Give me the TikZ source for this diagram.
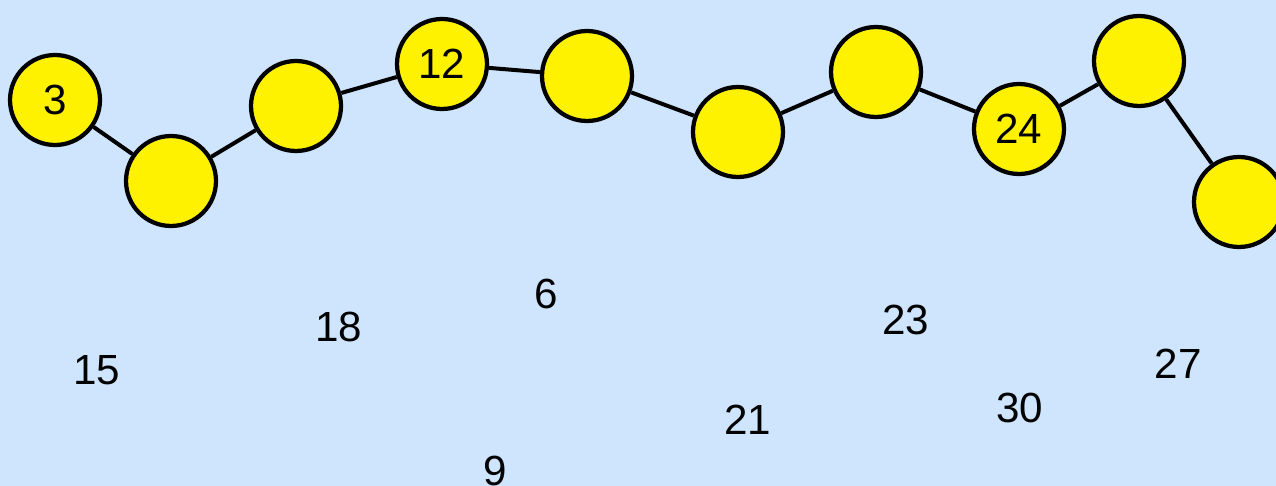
\documentclass[tikz,border=0pt]{standalone}
\usepackage{fontspec}
\setmainfont{Liberation Sans}
\usepackage{tikz}
\definecolor{bgblue}{RGB}{206,229,253}
\tikzset{
  bead/.style={circle, draw=black, fill=yellow, line width=0.085cm,
    minimum size=1.8cm, inner sep=0pt, font=\fontsize{24}{28}\selectfont},
  link/.style={line width=0.08cm},
  num/.style={inner sep=0pt, font=\fontsize{24}{28}\selectfont}
}

\begin{document}
\begin{tikzpicture}[x=0.02cm,y=-0.02cm]
  \fill[bgblue] (0,0) rectangle (1276,486);
  \useasboundingbox (0,0) rectangle (1276,486);
  % chain of beads
  \node[bead] (c1) at (55,100) {3};
  \node[bead] (c2) at (171,181) {};
  \node[bead] (c3) at (296,106) {};
  \node[bead] (c4) at (442,64) {12};
  \node[bead] (c5) at (587,76) {};
  \node[bead] (c6) at (738,132) {};
  \node[bead] (c7) at (876,72) {};
  \node[bead] (c8) at (1019,129) {24};
  \node[bead] (c9) at (1139,61) {};
  \node[bead] (c10) at (1239,202) {};
  \draw[link] (c1)--(c2)--(c3)--(c4)--(c5)--(c6)--(c7)--(c8)--(c9)--(c10);
  % loose numbers
  \node[num] (n15) at (97,370) {15};
  \node[num] (n18) at (339,327) {18};
  \node[num] (n6) at (546,294) {6};
  \node[num] (n9) at (495,471) {9};
  \node[num] (n21) at (748,420) {21};
  \node[num] (n23) at (906,320) {23};
  \node[num] (n30) at (1020,408) {30};
  \node[num] (n27) at (1178,364) {27};
\end{tikzpicture}
\end{document}
